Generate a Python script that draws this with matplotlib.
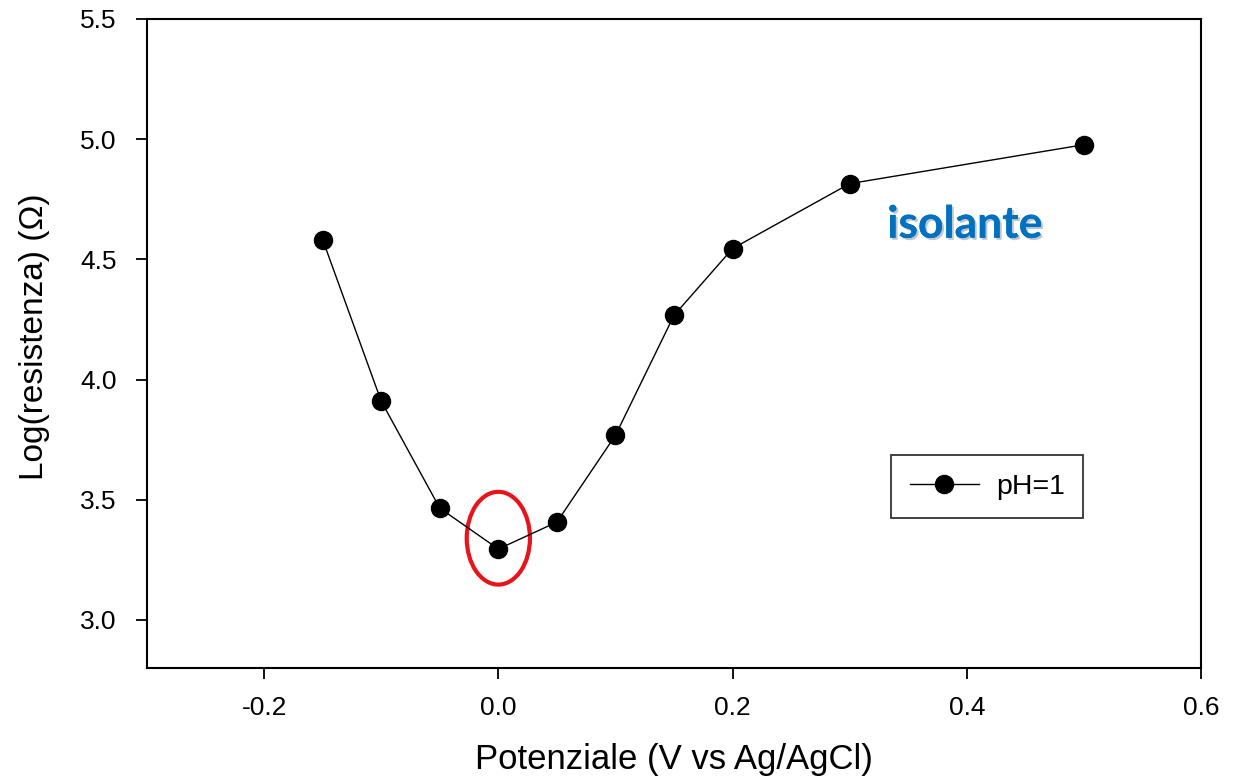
import matplotlib.pyplot as plt
from matplotlib.patches import Ellipse
import matplotlib.patheffects as pe

# data
potenziale = [-0.15, -0.10, -0.05, 0.00, 0.05, 0.10, 0.15, 0.20, 0.30, 0.50]
log_res = [4.582, 3.91, 3.465, 3.295, 3.407, 3.768, 4.267, 4.545, 4.815, 4.977]

x_ticks = [-0.2, 0.0, 0.2, 0.4, 0.6]
y_ticks = [3.0, 3.5, 4.0, 4.5, 5.0, 5.5]

plt.rcParams['font.family'] = ['Liberation Sans', 'DejaVu Sans']

fig = plt.figure(figsize=(12.33, 7.79), dpi=100)
ax = fig.add_axes([147 / 1233, 1 - 668 / 779, (1201 - 147) / 1233, (668 - 19) / 779])

ax.plot(potenziale, log_res, color='black', linewidth=1.0,
        marker='o', markersize=13, label='pH=1')

ax.set_xlim(-0.3, 0.6)
ax.set_ylim(2.8, 5.5)
ax.set_xticks(x_ticks)
ax.set_xticklabels(['%.1f' % v for v in x_ticks])
ax.set_yticks(y_ticks)
ax.set_yticklabels(['%.1f' % v for v in y_ticks])
ax.tick_params(direction='out', length=8, width=1.3, labelsize=19)
ax.tick_params(axis='x', pad=12)
ax.tick_params(axis='y', pad=14)
for s in ax.spines.values():
    s.set_linewidth(1.5)

ax.set_xlabel('Potenziale (V vs Ag/AgCl)', fontsize=25, labelpad=17)
ax.set_ylabel('Log(resistenza) (\u03a9)', fontsize=24)
ax.yaxis.set_label_coords(-0.092, 0.51)

# red ellipse around the minimum
ax.add_patch(Ellipse((0.0, 3.34), 0.054, 0.386, fill=False,
                     edgecolor='#E8141B', linewidth=3))

ax.text(0.332, 4.59, 'isolante', fontsize=32, fontweight='bold',
        color='#0070C0', family=['Lato', 'DejaVu Sans'], va='baseline',
        path_effects=[pe.withSimplePatchShadow(offset=(1.5, -1.5), alpha=0.25),
                      pe.Normal()])

leg = ax.legend(loc='upper left', bbox_to_anchor=((891 - 147) / 1054, 1 - (455 - 19) / 649),
                fontsize=20.5, frameon=True, fancybox=False, edgecolor='black',
                borderpad=0.65, handlelength=2.45, handletextpad=0.58,
                borderaxespad=0)
leg.get_frame().set_linewidth(1.3)

fig.savefig('out.png', dpi=100)
